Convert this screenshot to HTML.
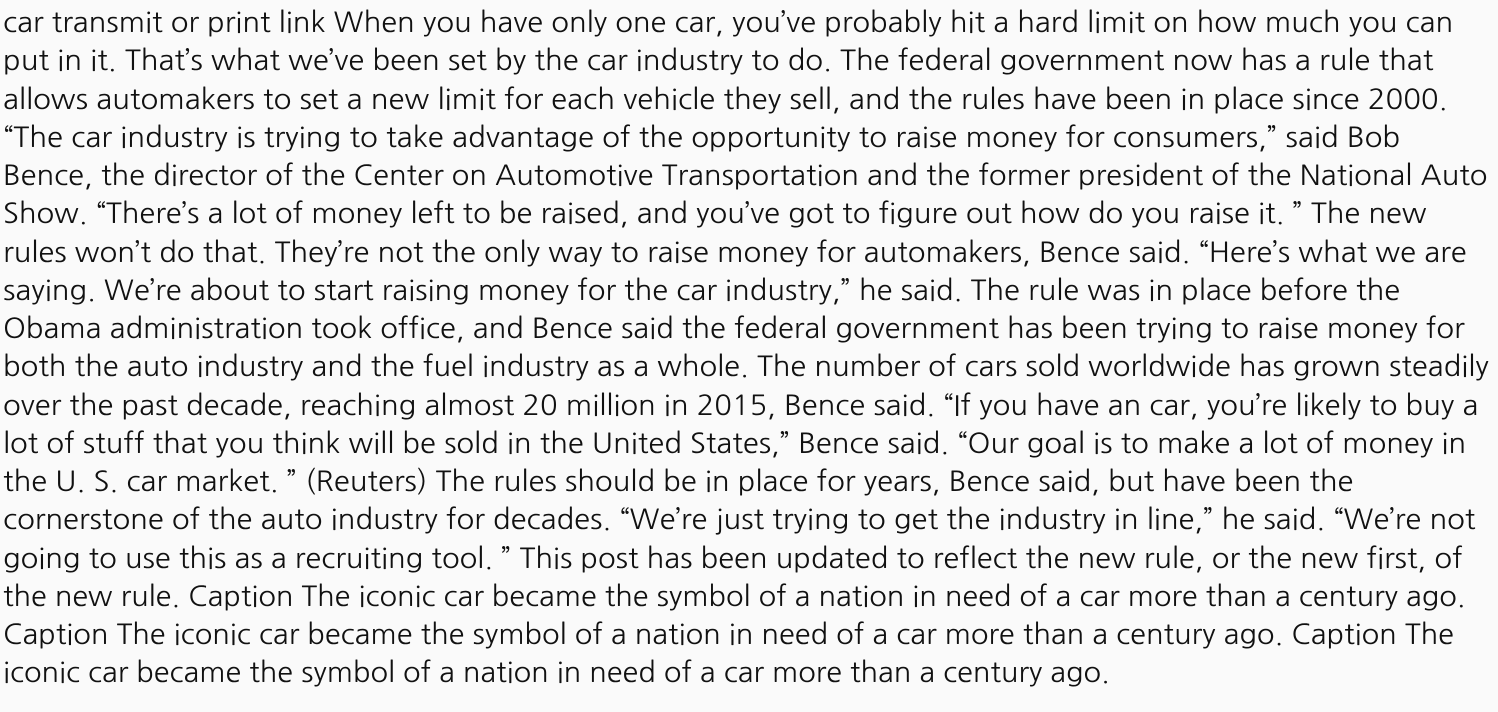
<!DOCTYPE html>
<html>
<head>
<meta charset="utf-8">
<style>
html,body{margin:0;padding:0;background:#fafafa;}
body{width:1498px;height:712px;overflow:hidden;}
#article{position:absolute;left:3px;top:4px;font-family:"NanumGothic","Liberation Sans",sans-serif;font-size:28.25px;line-height:38.25px;color:#111;white-space:nowrap;}
.l{display:block;height:38.25px;}
.l span{display:inline-block;transform-origin:0 0;}
</style>
</head>
<body>
<div id="article">
<span class="l"><span>car transmit or print link When you have only one car, you’ve probably hit a hard limit on how much you can</span></span>
<span class="l"><span>put in it. That’s what we’ve been set by the car industry to do. The federal government now has a rule that</span></span>
<span class="l"><span>allows automakers to set a new limit for each vehicle they sell, and the rules have been in place since 2000.</span></span>
<span class="l"><span>“The car industry is trying to take advantage of the opportunity to raise money for consumers,” said Bob</span></span>
<span class="l"><span>Bence, the director of the Center on Automotive Transportation and the former president of the National Auto</span></span>
<span class="l"><span>Show. “There’s a lot of money left to be raised, and you’ve got to figure out how do you raise it. ” The new</span></span>
<span class="l"><span>rules won’t do that. They’re not the only way to raise money for automakers, Bence said. “Here’s what we are</span></span>
<span class="l"><span>saying. We’re about to start raising money for the car industry,” he said. The rule was in place before the</span></span>
<span class="l"><span>Obama administration took office, and Bence said the federal government has been trying to raise money for</span></span>
<span class="l"><span>both the auto industry and the fuel industry as a whole. The number of cars sold worldwide has grown steadily</span></span>
<span class="l"><span>over the past decade, reaching almost 20 million in 2015, Bence said. “If you have an car, you’re likely to buy a</span></span>
<span class="l"><span>lot of stuff that you think will be sold in the United States,” Bence said. “Our goal is to make a lot of money in</span></span>
<span class="l"><span>the U. S. car market. ” (Reuters) The rules should be in place for years, Bence said, but have been the</span></span>
<span class="l"><span>cornerstone of the auto industry for decades. “We’re just trying to get the industry in line,” he said. “We’re not</span></span>
<span class="l"><span>going to use this as a recruiting tool. ” This post has been updated to reflect the new rule, or the new first, of</span></span>
<span class="l"><span>the new rule. Caption The iconic car became the symbol of a nation in need of a car more than a century ago.</span></span>
<span class="l"><span>Caption The iconic car became the symbol of a nation in need of a car more than a century ago. Caption The</span></span>
<span class="l"><span>iconic car became the symbol of a nation in need of a car more than a century ago.</span></span>
</div>
<script>
var lineEnds = [1453,1433,1448,1400,1487,1426,1467,1400,1464,1489,1478,1466,1353,1475,1463,1466,1454,1110];
function fit() {
  var spans = document.querySelectorAll('.l > span');
  for (var i = 0; i < spans.length; i++) {
    spans[i].style.transform = 'none';
    var w = spans[i].offsetWidth;
    var target = lineEnds[i] - 3;
    if (w > 0) spans[i].style.transform = 'scaleX(' + (target / w) + ')';
  }
}
fit();
if (document.fonts && document.fonts.ready) document.fonts.ready.then(fit);
window.addEventListener('load', fit);
</script>
</body>
</html>
